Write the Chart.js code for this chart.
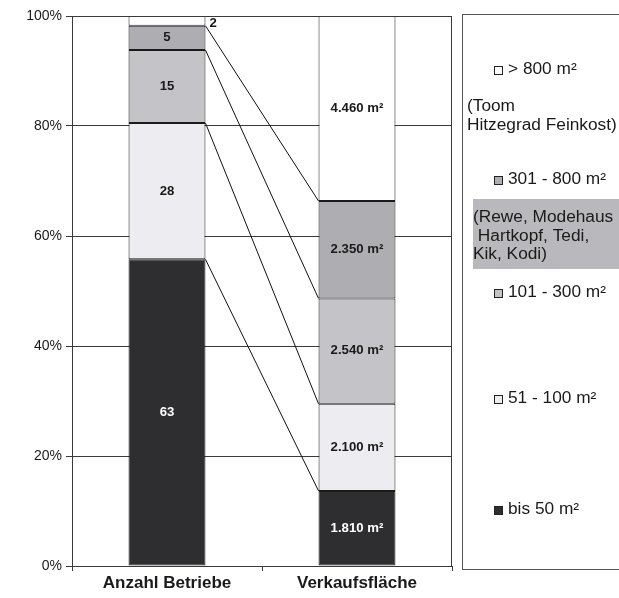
<!DOCTYPE html>
<html>
<head>
<meta charset="utf-8">
<script src="https://cdn.jsdelivr.net/npm/chart.js@4"></script>
<style>
	html, body { margin: 0; padding: 0; background: #ffffff; }
	#wrap { width: 619px; height: 598px; }
</style>
</head>
<body>
<div id="wrap"><canvas id="grafica"></canvas></div>
<script>
const categories = ['Anzahl Betriebe', 'Verkaufsfläche'];
const sizeClasses = ['bis 50 m²', '51 - 100 m²', '101 - 300 m²', '301 - 800 m²', '> 800 m²'];
const anzahlBetriebe = [63, 28, 15, 5, 2];
const verkaufsflaeche = [1810, 2100, 2540, 2350, 4460];
const classNotes = ['', '', '', '(Rewe, Modehaus\n Hartkopf, Tedi,\nKik, Kodi)', '(Toom\nHitzegrad Feinkost)'];
const yTicks = [0, 20, 40, 60, 80, 100];

const colores = ['#2e2e30', '#ececf1', '#c3c3c8', '#adadb2', '#ffffff'];
const FONT = '"Liberation Sans", Arial, sans-serif';

const sumA = anzahlBetriebe.reduce((a, b) => a + b, 0);
const sumV = verkaufsflaeche.reduce((a, b) => a + b, 0);

function fmtDe(n) {
	return String(n).replace(/\B(?=(\d{3})+(?!\d))/g, '.');
}

const datasets = sizeClasses.map((name, i) => ({
	label: name,
	data: [anzahlBetriebe[i] / sumA * 100, verkaufsflaeche[i] / sumV * 100],
	backgroundColor: colores[i],
	borderColor: '#1a1a1a',
	borderWidth: 1,
	borderSkipped: false,
	barPercentage: 0.405,
	categoryPercentage: 1
}));

// Text leicht in die Breite gezogen, wie im Scan
function wideText(c, txt, x, y, sx) {
	c.save();
	c.translate(x, y);
	c.scale(sx, 1);
	c.fillText(txt, 0, 0);
	c.restore();
}

// Rahmen, Verbindungslinien und Beschriftungen
const extras = {
	id: 'extras',
	beforeDraw(chart) {
		const c = chart.ctx;
		c.save();
		c.fillStyle = '#ffffff';
		c.fillRect(0, 0, chart.width, chart.height);
		c.restore();
	},
	afterDatasetsDraw(chart) {
		const c = chart.ctx;
		const a = chart.chartArea;
		c.save();
		c.strokeStyle = '#3a3a3a';
		c.lineWidth = 1;
		c.strokeRect(Math.round(a.left) + 0.5, Math.round(a.top) + 0.5, Math.round(a.right - a.left) - 1, Math.round(a.bottom - a.top));

		// Verbindungslinien
		c.strokeStyle = '#111';
		for (let k = 0; k < sizeClasses.length - 1; k++) {
			const m = chart.getDatasetMeta(k).data;
			c.beginPath();
			c.moveTo(m[0].x + m[0].width / 2, m[0].y);
			c.lineTo(m[1].x - m[1].width / 2, m[1].y);
			c.stroke();
		}

		// Werte
		c.font = 'bold 12px ' + FONT;
		c.textBaseline = 'middle';
		sizeClasses.forEach((name, i) => {
			const m = chart.getDatasetMeta(i).data;
			const txt = [String(anzahlBetriebe[i]), fmtDe(verkaufsflaeche[i]) + ' m²'];
			m.forEach((el, j) => {
				c.fillStyle = i === 0 ? '#ffffff' : '#1a1a1a';
				const h = el.base - el.y;
				if (h < 14) {
					c.fillStyle = '#1a1a1a';
					c.textAlign = 'left';
					wideText(c, txt[j], el.x + el.width / 2 + 4, el.y + 8, 1.1);
				} else {
					c.textAlign = 'center';
					wideText(c, txt[j], el.x, (el.y + el.base) / 2, 1.1);
				}
			});
		});

		// Legende
		c.strokeStyle = '#555';
		c.strokeRect(462.5, 14.5, 170, 555);
		c.fillStyle = '#b9b9bd';
		c.fillRect(473, 199, 146, 70);

		const itemY = [510, 399, 293, 180, 70];
		const noteY = [0, 0, 0, 218, 107];
		const noteX = [0, 0, 0, 473, 467];
		c.font = '16px ' + FONT;
		c.textAlign = 'left';
		sizeClasses.forEach((name, i) => {
			const y = itemY[i];
			c.fillStyle = colores[i];
			c.fillRect(494, y - 4, 8, 8);
			c.strokeStyle = '#222';
			c.strokeRect(494.5, y - 3.5, 8, 8);
			c.fillStyle = '#1a1a1a';
			wideText(c, name, 508, y, 1.08);
			if (classNotes[i]) {
				classNotes[i].split('\n').forEach((line, r) => {
					wideText(c, line, noteX[i], noteY[i] + r * 18.5, 1.08);
				});
			}
		});
		c.restore();
	}
};

new Chart(document.getElementById('grafica'), {
	type: 'bar',
	data: { labels: categories, datasets: datasets },
	options: {
		responsive: true,
		maintainAspectRatio: false,
		animation: false,
		layout: { padding: { top: 16, right: 167, left: 0, bottom: 0 } },
		plugins: {
			legend: { display: false },
			tooltip: { enabled: false }
		},
		scales: {
			x: {
				stacked: true,
				afterFit(s) { s.height = 32; },
				grid: { display: true, drawOnChartArea: false, tickLength: 5, color: '#3a3a3a' },
				border: { display: true, color: '#3a3a3a' },
				ticks: {
					color: '#1a1a1a',
					padding: 2,
					font: { family: FONT, size: 17, weight: 'bold' }
				}
			},
			y: {
				stacked: true,
				min: 0,
				max: 100,
				afterFit(s) { s.width = 72; },
				afterBuildTicks(s) { s.ticks = yTicks.map(v => ({ value: v })); },
				grid: { color: '#3a3a3a', tickLength: 6, lineWidth: 1 },
				border: { display: true, color: '#3a3a3a' },
				ticks: {
					color: '#1a1a1a',
					padding: 4,
					font: { family: FONT, size: 14 },
					callback: v => v + '%'
				}
			}
		}
	},
	plugins: [extras]
});
</script>
</body>
</html>
